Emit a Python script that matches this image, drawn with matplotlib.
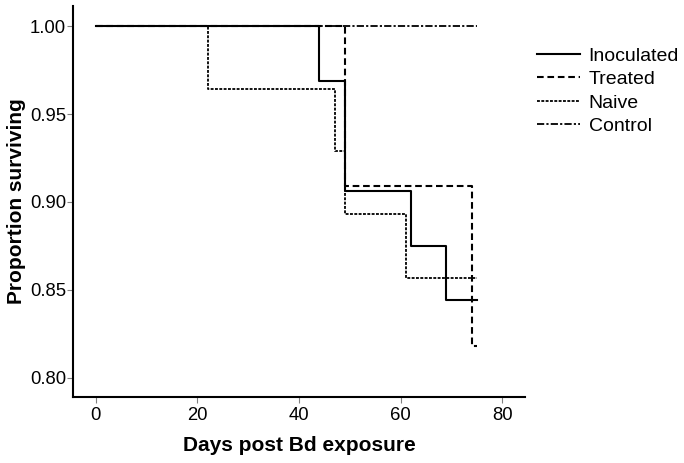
import matplotlib
matplotlib.use('Agg')
import matplotlib.pyplot as plt

plt.rcParams['font.family'] = ['Liberation Sans', 'DejaVu Sans']

# Kaplan-Meier curves (days, proportion surviving)
inoc_days = [0, 44, 49, 62, 69, 75]
inoc_surv = [1.000, 0.969, 0.906, 0.875, 0.844, 0.844]

treat_days = [0, 49, 74, 75]
treat_surv = [1.000, 0.909, 0.818, 0.818]

naive_days = [0, 22, 47, 49, 61, 75]
naive_surv = [1.000, 0.964, 0.929, 0.893, 0.857, 0.857]

ctrl_days = [0, 75]
ctrl_surv = [1.000, 1.000]

labels = ['Inoculated', 'Treated', 'Naive', 'Control']
xticks = [0, 20, 40, 60, 80]
yticks = [0.80, 0.85, 0.90, 0.95, 1.00]

fig = plt.figure(figsize=(6.84, 4.63), dpi=100)
ax = fig.add_axes([73/684, 66/463, 452/684, 391/463])

ax.step(ctrl_days, ctrl_surv, where='post', color='black', lw=1.3,
        dashes=(4, 1.2, 1.2, 1.2), label=labels[3])
ax.step(naive_days, naive_surv, where='post', color='black', lw=1.3,
        dashes=(1.6, 0.8), label=labels[2])
ax.step(treat_days, treat_surv, where='post', color='black', lw=1.5,
        dashes=(3.2, 1.8), label=labels[1])
ax.step(inoc_days, inoc_surv, where='post', color='black', lw=1.5,
        label=labels[0])

ax.set_xlim(-4.5, 84.5)
ax.set_ylim(0.789, 1.0115)
ax.set_xticks(xticks)
ax.set_yticks(yticks)
ax.set_yticklabels(['%.2f' % v for v in yticks])

for s in ['top', 'right']:
    ax.spines[s].set_visible(False)
for s in ['left', 'bottom']:
    ax.spines[s].set_linewidth(1.5)

ax.tick_params(axis='both', direction='out', length=4, width=0.8,
               color='#808080', labelsize=13.3)
ax.tick_params(axis='x', pad=3)
ax.tick_params(axis='y', pad=1)

ax.set_xlabel('Days post Bd exposure', fontsize=15, fontweight='bold', labelpad=9)
ax.set_ylabel('Proportion surviving', fontsize=15, fontweight='bold', labelpad=3)

h, l = ax.get_legend_handles_labels()
order = [3, 2, 1, 0]
ax.legend([h[i] for i in order], [l[i] for i in order],
          loc='upper left', bbox_to_anchor=(537/684, (463-47)/463),
          bbox_transform=fig.transFigure, frameon=False, fontsize=14,
          borderpad=0, borderaxespad=0, handlelength=2.2,
          handletextpad=0.45, labelspacing=0.3)

fig.savefig('out.png', dpi=100)
